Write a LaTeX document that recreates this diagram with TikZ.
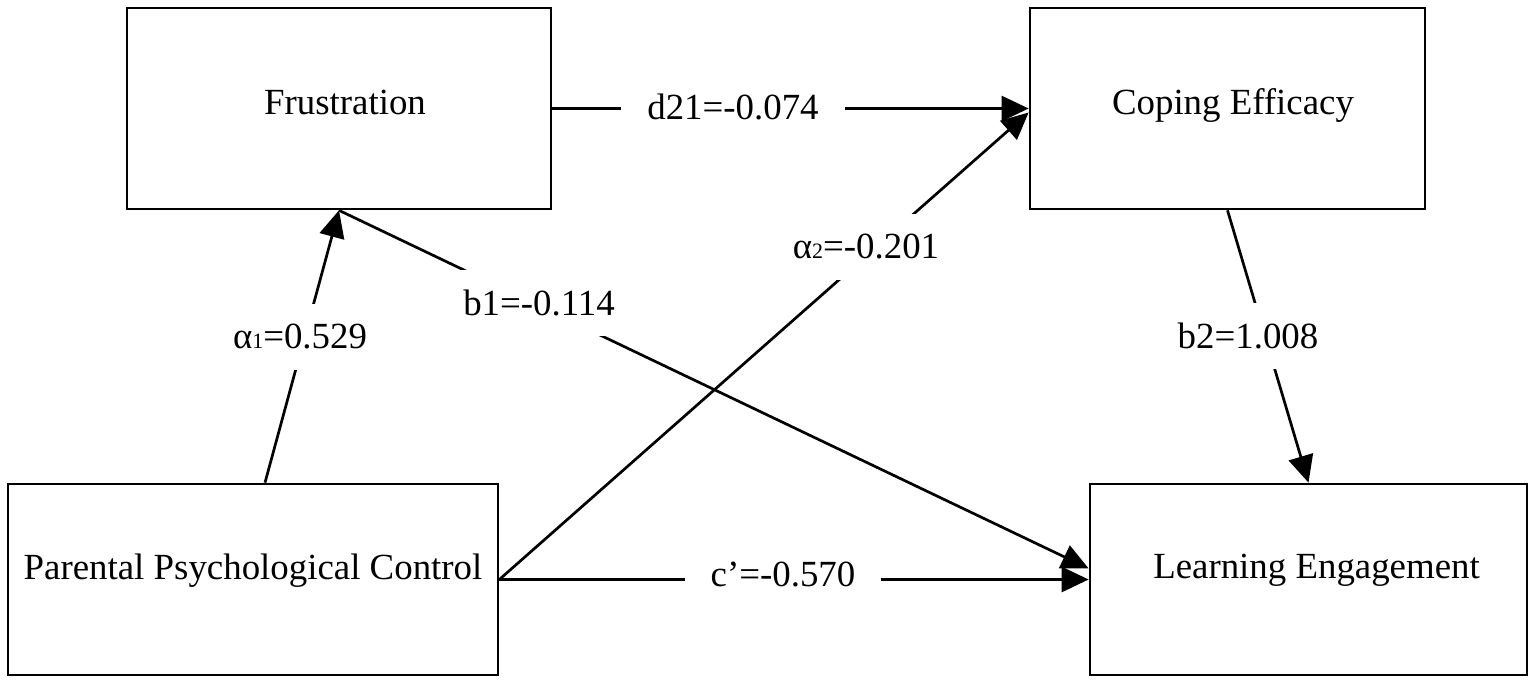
\documentclass[tikz,border=0pt]{standalone}
\usepackage{fontspec}
\setmainfont{Liberation Serif}
\usetikzlibrary{arrows.meta}
\tikzset{
  box/.style={draw=black, line width=2.7bp, fill=white, inner sep=0pt, text height=26bp, font=\fontsize{37}{44}\selectfont},
  conn/.style={line width=2.7bp, -{Triangle[length=27bp,width=25bp]}},
  lab/.style={fill=white, inner xsep=26bp, inner ysep=20bp, font=\fontsize{37}{44}\selectfont},
}
\newcommand{\smallsub}[1]{{\fontsize{22}{22}\selectfont #1}}
\begin{document}
\begin{tikzpicture}[x=1bp,y=-1bp]
\useasboundingbox[fill=white] (0,0) rectangle (1535,684);
\node[box, minimum width=424bp, minimum height=201bp, text depth=13bp] (frus) at (339,108.5) {\hspace*{12bp}Frustration};
\node[box, minimum width=395bp, minimum height=201bp, text depth=14bp] (ce) at (1227.5,108.5) {\hspace*{11bp}Coping Efficacy};
\node[box, minimum width=490bp, minimum height=191bp, text depth=26bp] (ppc) at (253,579.5) {Parental Psychological Control};
\node[box, minimum width=437bp, minimum height=191bp, text depth=28bp] (le) at (1308.5,579.5) {\hspace*{16bp}Learning Engagement};

\draw[conn] (frus.east) -- (ce.west);
\draw[conn] ([xshift=12bp]ppc.north) -- (frus.south);
\draw[conn] (ppc.east) -- ([yshift=-4bp]ce.west);
\draw[conn] (frus.south) -- ([yshift=11bp]le.west);
\draw[conn] (ce.south) -- (le.north);
\draw[conn] (ppc.east) -- (le.west);

\node[lab] (ld) at (733,107) {d21=-0.074};
\node[lab] (la1) at (300,337) {α\smallsub{1}=0.529};
\node[lab] (lb1) at (539,303) {b1=-0.114};
\node[lab] (la2) at (866,247) {α\smallsub{2}=-0.201};
\node[lab] (lb2) at (1248,336) {b2=1.008};
\node[lab] (lc) at (783,574) {c’=-0.570};
\end{tikzpicture}
\end{document}
